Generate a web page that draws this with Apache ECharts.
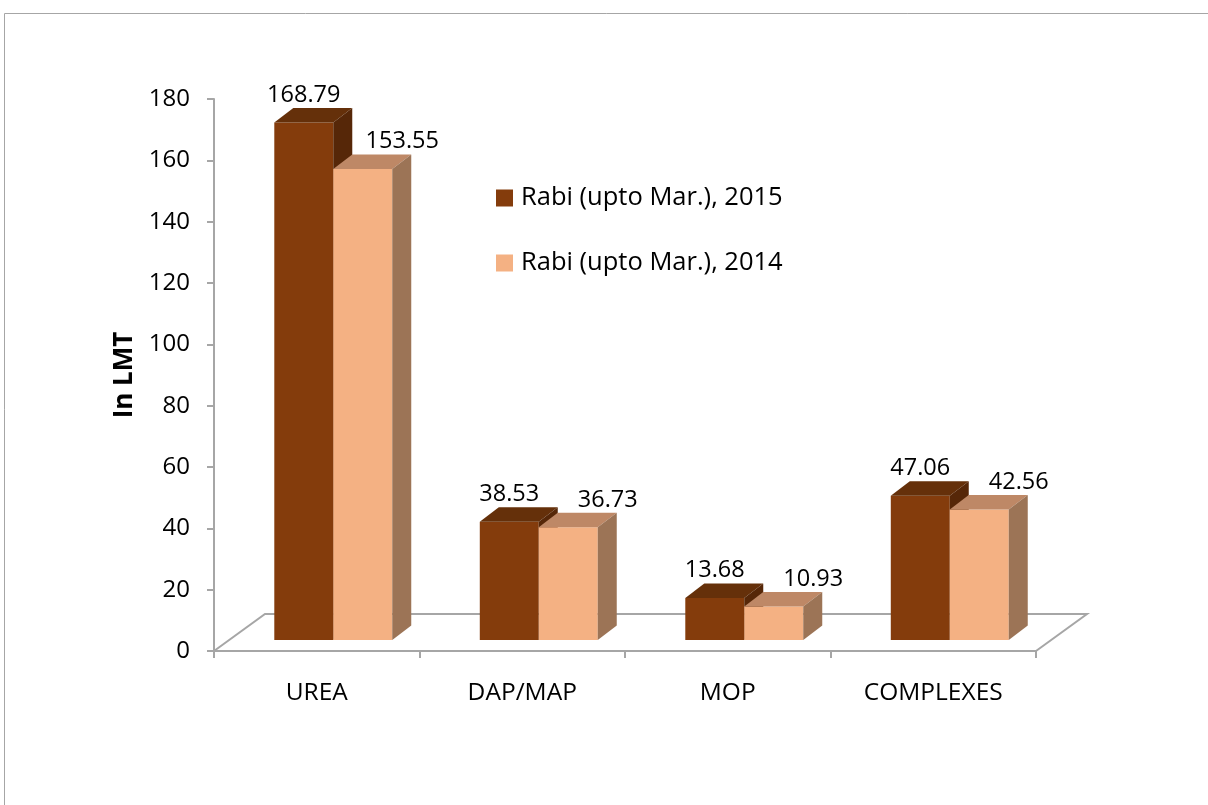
<!DOCTYPE html>
<html>
<head>
<meta charset="utf-8">
<script src="https://cdn.jsdelivr.net/npm/echarts@6/dist/echarts.min.js"></script>
<style>
html,body{margin:0;padding:0;background:#fff;}
#chart{width:1208px;height:805px;}
</style>
</head>
<body>
<div id="chart"></div>
<script>
const categories = ['UREA', 'DAP/MAP', 'MOP', 'COMPLEXES'];
const seriesNames = ['Rabi (upto Mar.), 2015', 'Rabi (upto Mar.), 2014'];
const rabi2015 = [168.79, 38.53, 13.68, 47.06];
const rabi2014 = [153.55, 36.73, 10.93, 42.56];
const yMin = 0, yMax = 180, yStep = 20;

const FONT = 'Open Sans';
const palettes = [
  {front: '#843C0C', top: '#65300A', side: '#562708'},
  {front: '#F4B183', top: '#BE8866', side: '#9C7456'}
];
const DEPTH_X = 19, DEPTH_Y = 14.5, LIFT = 11;
const FLOOR_X = 51, FLOOR_Y = 37;

function barRenderer(sIdx) {
  const pal = palettes[sIdx];
  return function (params, api) {
    const cat = api.value(0), val = api.value(1);
    const base = api.coord([cat, 0]);
    const top = api.coord([cat, val]);
    const bw = api.size([1, 0])[0];
    const barW = bw * 0.287;
    const x0 = base[0] - bw * 0.2066 + sIdx * barW;
    const x1 = x0 + barW;
    const yb = base[1] - LIFT, yt = top[1] - LIFT;
    const label = val.toFixed(2);
    const lx = sIdx === 0 ? (x0 + x1) / 2 : x1 + 10;
    return {
      type: 'group',
      children: [
        {type: 'polygon', shape: {points: [[x0, yt], [x1, yt], [x1, yb], [x0, yb]]},
         style: {fill: pal.front}},
        {type: 'polygon', shape: {points: [[x0, yt], [x0 + DEPTH_X, yt - DEPTH_Y], [x1 + DEPTH_X, yt - DEPTH_Y], [x1, yt]]},
         style: {fill: pal.top}},
        {type: 'polygon', shape: {points: [[x1, yt], [x1 + DEPTH_X, yt - DEPTH_Y], [x1 + DEPTH_X, yb - DEPTH_Y], [x1, yb]]},
         style: {fill: pal.side}},
        {type: 'text', z2: 10, style: {text: label, x: lx, y: yt - DEPTH_Y - 13,
          align: 'center', verticalAlign: 'middle', fill: '#000',
          font: '23.5px "' + FONT + '"'}}
      ]
    };
  };
}

function floorRenderer(params, api) {
  const cs = params.coordSys;
  const xl = cs.x, xr = cs.x + cs.width, yf = cs.y + cs.height;
  return {
    type: 'polyline',
    shape: {points: [[xl, yf], [xl + FLOOR_X, yf - FLOOR_Y], [xr + FLOOR_X, yf - FLOOR_Y], [xr, yf]]},
    style: {stroke: '#A6A6A6', lineWidth: 2, fill: null}
  };
}

const chart = echarts.init(document.getElementById('chart'), null, {renderer: 'canvas'});
chart.setOption({
  animation: false,
  backgroundColor: '#fff',
  textStyle: {fontFamily: FONT},
  graphic: [{
    type: 'rect', silent: true,
    shape: {x: 4.5, y: 13.5, width: 1400, height: 1000},
    style: {fill: null, stroke: '#A6A6A6', lineWidth: 1}
  }],
  grid: {left: 214, right: 172, top: 99, bottom: 154},
  legend: {
    orient: 'vertical', left: 496, top: 185, padding: 0,
    itemWidth: 17, itemHeight: 17, itemGap: 39,
    icon: 'rect',
    textStyle: {fontSize: 25.5, lineHeight: 17, color: '#000', fontFamily: FONT, padding: [0, 0, 0, 3]},
    data: [
      {name: seriesNames[0], itemStyle: {color: palettes[0].front}},
      {name: seriesNames[1], itemStyle: {color: palettes[1].front}}
    ]
  },
  xAxis: {
    type: 'category', data: categories,
    axisLine: {lineStyle: {color: '#A6A6A6', width: 2}},
    axisTick: {show: true, length: 7, lineStyle: {color: '#A6A6A6', width: 2}},
    axisLabel: {color: '#000', fontSize: 24.5, margin: 30, fontFamily: FONT}
  },
  yAxis: {
    type: 'value', min: yMin, max: yMax, interval: yStep,
    name: 'In LMT', nameLocation: 'middle', nameGap: 74,
    nameTextStyle: {fontSize: 26, fontWeight: 'bold', color: '#000', fontFamily: FONT},
    axisLine: {show: true, lineStyle: {color: '#A6A6A6', width: 2}},
    axisTick: {show: true, length: 7, lineStyle: {color: '#A6A6A6', width: 2}},
    splitLine: {show: false},
    axisLabel: {color: '#000', fontSize: 24, margin: 24, fontFamily: FONT}
  },
  series: [
    {type: 'custom', name: 'floor', renderItem: floorRenderer, data: [[0, 0]], z: 1, silent: true},
    {type: 'custom', name: seriesNames[0], renderItem: barRenderer(0),
     itemStyle: {color: palettes[0].front},
     data: rabi2015.map((v, i) => [i, v]), z: 2},
    {type: 'custom', name: seriesNames[1], renderItem: barRenderer(1),
     itemStyle: {color: palettes[1].front},
     data: rabi2014.map((v, i) => [i, v]), z: 3}
  ]
});
</script>
</body>
</html>
